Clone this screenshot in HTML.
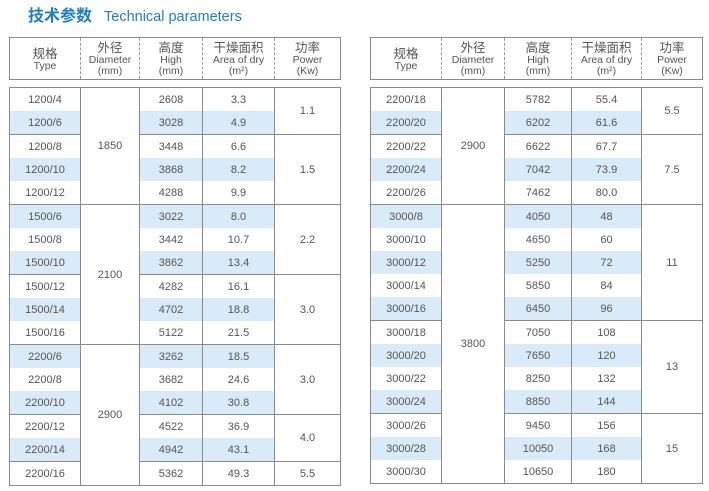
<!DOCTYPE html>
<html><head><meta charset="utf-8"><style>
body{margin:0;width:709px;height:491px;background:#fff;overflow:hidden;position:relative;font-family:"Liberation Sans","Noto Sans CJK SC",sans-serif;color:#555}
.title{position:absolute;left:28px;top:2px;color:#1f7ec2;white-space:nowrap}
.title b{font-size:16px;font-family:"Noto Sans CJK SC",sans-serif;font-weight:bold}
.title span{font-size:14.5px;margin-left:12px}
table{position:absolute;border-collapse:collapse;table-layout:fixed}
.hd{top:37px;height:43px;border:1px solid #8a8a8a}
.hd td{text-align:center;font-size:10.5px;line-height:11px;border-left:1px dashed #999;padding:0;vertical-align:middle}
.hd td:first-child{border-left:none}
.hd .c{font-size:12.5px;line-height:13px;font-family:"Noto Sans CJK SC",sans-serif}
.bd{top:87px;border:1px solid #8a8a8a}
.bd td{height:23px;padding:0;text-align:center;font-size:11px;border-left:1px solid #8a8a8a;border-right:1px solid #8a8a8a}
.bd tr.e td{border-bottom:1px solid #8a8a8a}
.bd td.m{border-bottom:1px solid #8a8a8a}
.bd tr.b td.t{background:#d9ebf8}
</style></head><body>
<div class="title"><b>技术参数</b><span>Technical parameters</span></div>

<table class="hd" style="left:9px;width:331px"><colgroup><col style="width:71px"><col style="width:59px"><col style="width:63px"><col style="width:72px"><col style="width:66px"></colgroup>
<tr><td><span class="c">规格</span><br>Type</td><td><span class="c">外径</span><br>Diameter<br>(mm)</td><td><span class="c">高度</span><br>High<br>(mm)</td><td><span class="c">干燥面积</span><br>Area of dry<br>(m²)</td><td><span class="c">功率</span><br>Power<br>(Kw)</td></tr></table>

<table class="hd" style="left:370px;width:332px"><colgroup><col style="width:71px"><col style="width:63px"><col style="width:67px"><col style="width:70px"><col style="width:61px"></colgroup>
<tr><td><span class="c">规格</span><br>Type</td><td><span class="c">外径</span><br>Diameter<br>(mm)</td><td><span class="c">高度</span><br>High<br>(mm)</td><td><span class="c">干燥面积</span><br>Area of dry<br>(m²)</td><td><span class="c">功率</span><br>Power<br>(Kw)</td></tr></table>

<table class="bd" style="left:9px;width:331px"><colgroup><col style="width:71px"><col style="width:59px"><col style="width:63px"><col style="width:72px"><col style="width:66px"></colgroup>
<tr><td class="t">1200/4</td><td rowspan="5" class="m">1850</td><td class="t">2608</td><td class="t">3.3</td><td rowspan="2" class="m">1.1</td></tr>
<tr class="b e"><td class="t">1200/6</td><td class="t">3028</td><td class="t">4.9</td></tr>
<tr><td class="t">1200/8</td><td class="t">3448</td><td class="t">6.6</td><td rowspan="3" class="m">1.5</td></tr>
<tr class="b"><td class="t">1200/10</td><td class="t">3868</td><td class="t">8.2</td></tr>
<tr class="e"><td class="t">1200/12</td><td class="t">4288</td><td class="t">9.9</td></tr>
<tr class="b"><td class="t">1500/6</td><td rowspan="6" class="m">2100</td><td class="t">3022</td><td class="t">8.0</td><td rowspan="3" class="m">2.2</td></tr>
<tr><td class="t">1500/8</td><td class="t">3442</td><td class="t">10.7</td></tr>
<tr class="b e"><td class="t">1500/10</td><td class="t">3862</td><td class="t">13.4</td></tr>
<tr><td class="t">1500/12</td><td class="t">4282</td><td class="t">16.1</td><td rowspan="3" class="m">3.0</td></tr>
<tr class="b"><td class="t">1500/14</td><td class="t">4702</td><td class="t">18.8</td></tr>
<tr class="e"><td class="t">1500/16</td><td class="t">5122</td><td class="t">21.5</td></tr>
<tr class="b"><td class="t">2200/6</td><td rowspan="6" class="m">2900</td><td class="t">3262</td><td class="t">18.5</td><td rowspan="3" class="m">3.0</td></tr>
<tr><td class="t">2200/8</td><td class="t">3682</td><td class="t">24.6</td></tr>
<tr class="b e"><td class="t">2200/10</td><td class="t">4102</td><td class="t">30.8</td></tr>
<tr><td class="t">2200/12</td><td class="t">4522</td><td class="t">36.9</td><td rowspan="2" class="m">4.0</td></tr>
<tr class="b e"><td class="t">2200/14</td><td class="t">4942</td><td class="t">43.1</td></tr>
<tr class="e"><td class="t">2200/16</td><td class="t">5362</td><td class="t">49.3</td><td class="m">5.5</td></tr>
</table>

<table class="bd" style="left:370px;width:332px"><colgroup><col style="width:71px"><col style="width:63px"><col style="width:67px"><col style="width:70px"><col style="width:61px"></colgroup>
<tr><td class="t">2200/18</td><td rowspan="5" class="m">2900</td><td class="t">5782</td><td class="t">55.4</td><td rowspan="2" class="m">5.5</td></tr>
<tr class="b e"><td class="t">2200/20</td><td class="t">6202</td><td class="t">61.6</td></tr>
<tr><td class="t">2200/22</td><td class="t">6622</td><td class="t">67.7</td><td rowspan="3" class="m">7.5</td></tr>
<tr class="b"><td class="t">2200/24</td><td class="t">7042</td><td class="t">73.9</td></tr>
<tr class="e"><td class="t">2200/26</td><td class="t">7462</td><td class="t">80.0</td></tr>
<tr class="b"><td class="t">3000/8</td><td rowspan="12" class="m">3800</td><td class="t">4050</td><td class="t">48</td><td rowspan="5" class="m">11</td></tr>
<tr><td class="t">3000/10</td><td class="t">4650</td><td class="t">60</td></tr>
<tr class="b"><td class="t">3000/12</td><td class="t">5250</td><td class="t">72</td></tr>
<tr><td class="t">3000/14</td><td class="t">5850</td><td class="t">84</td></tr>
<tr class="b e"><td class="t">3000/16</td><td class="t">6450</td><td class="t">96</td></tr>
<tr><td class="t">3000/18</td><td class="t">7050</td><td class="t">108</td><td rowspan="4" class="m">13</td></tr>
<tr class="b"><td class="t">3000/20</td><td class="t">7650</td><td class="t">120</td></tr>
<tr><td class="t">3000/22</td><td class="t">8250</td><td class="t">132</td></tr>
<tr class="b e"><td class="t">3000/24</td><td class="t">8850</td><td class="t">144</td></tr>
<tr><td class="t">3000/26</td><td class="t">9450</td><td class="t">156</td><td rowspan="3" class="m">15</td></tr>
<tr class="b"><td class="t">3000/28</td><td class="t">10050</td><td class="t">168</td></tr>
<tr class="e"><td class="t">3000/30</td><td class="t">10650</td><td class="t">180</td></tr>
</table>
</body></html>
